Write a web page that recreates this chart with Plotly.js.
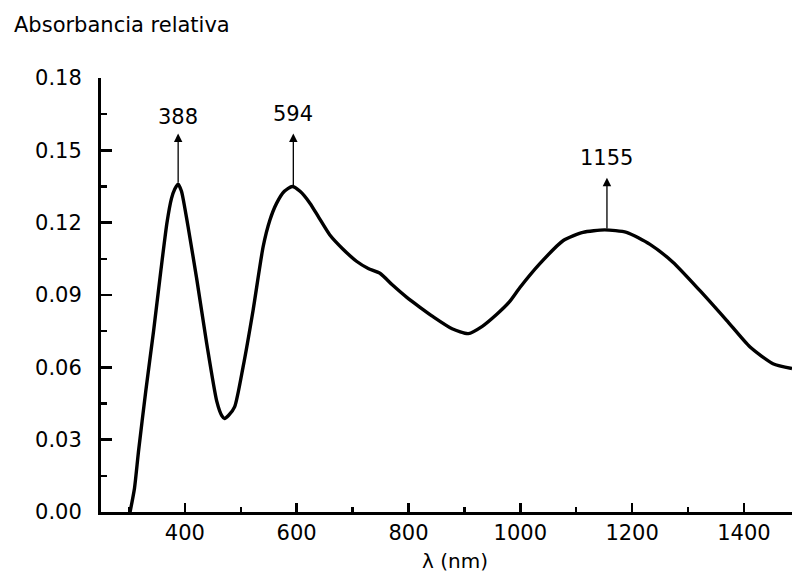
<!DOCTYPE html>
<html>
<head>
<meta charset="utf-8">
<script src="https://cdn.plot.ly/plotly-3.0.1.min.js"></script>
<style>html,body{margin:0;padding:0;background:#fff;}#chart{width:792px;height:576px;}</style>
</head>
<body>
<div id="chart"></div>
<script>
var wavelength = [302, 310, 317, 330, 344, 357, 368, 376, 382, 388, 394, 400, 406, 421, 439, 457, 466, 471, 478, 489, 504, 522, 540, 552, 564, 578, 592, 606, 624, 640, 659, 683, 707, 728, 749, 772, 797, 820, 844, 878, 907, 932, 958, 980, 999, 1035, 1077, 1112, 1151, 1190, 1232, 1273, 1321, 1369, 1411, 1452, 1486];
var absorbance = [0, 0.010, 0.025, 0.050, 0.075, 0.100, 0.120, 0.130, 0.134, 0.136, 0.133, 0.126, 0.118, 0.097, 0.070, 0.046, 0.040, 0.0388, 0.040, 0.0436, 0.060, 0.0836, 0.110, 0.121, 0.128, 0.133, 0.135, 0.133, 0.128, 0.122, 0.115, 0.109, 0.104, 0.101, 0.099, 0.094, 0.089, 0.085, 0.081, 0.076, 0.074, 0.077, 0.082, 0.087, 0.093, 0.103, 0.1126, 0.116, 0.117, 0.116, 0.111, 0.1036, 0.0919, 0.0795, 0.0684, 0.0615, 0.0595];
var peakLabels = ["388", "594", "1155"];
var peakX = [388, 594, 1155];
var peakBase = [0.136, 0.135, 0.117];
var peakTip = [0.157, 0.157, 0.1386];
var peakTextY = [0.164, 0.165, 0.147];
var yTitle = "Absorbancia relativa";
var xTitle = "λ (nm)";

var font = {family: "DejaVu Sans, Arial, sans-serif", size: 21, color: "#000"};

var annotations = [];
for (var i = 0; i < peakX.length; i++) {
  annotations.push({
    x: peakX[i], y: peakTip[i], xref: "x", yref: "y",
    ax: peakX[i], ay: peakBase[i], axref: "x", ayref: "y",
    showarrow: true, arrowhead: 2, arrowsize: 1.3, arrowwidth: 1.3, arrowcolor: "#000", text: ""
  });
  annotations.push({
    x: peakX[i], y: peakTextY[i], xref: "x", yref: "y",
    text: peakLabels[i], showarrow: false, font: font, yanchor: "middle"
  });
}
annotations.push({
  x: -0.129, y: 1.122, xref: "paper", yref: "paper", xanchor: "left", yanchor: "middle",
  text: yTitle, showarrow: false, font: font
});
annotations.push({
  x: 0.513, y: -0.113, xref: "paper", yref: "paper", xanchor: "center", yanchor: "middle",
  text: xTitle, showarrow: false, font: {family: font.family, size: 20, color: "#000"}
});

var trace = {
  x: wavelength, y: absorbance, type: "scatter", mode: "lines",
  line: {color: "#000", width: 3.4, shape: "spline", smoothing: 0.6},
  hoverinfo: "skip"
};

var layout = {
  width: 792, height: 576,
  margin: {l: 101, r: 0, t: 78, b: 64},
  paper_bgcolor: "#fff", plot_bgcolor: "#fff",
  showlegend: false,
  font: font,
  xaxis: {
    range: [250, 1486], showgrid: false, zeroline: false,
    showline: true, linecolor: "#000", linewidth: 2.5,
    ticks: "inside", ticklen: 9, tickwidth: 2.5, tickcolor: "#000",
    tick0: 400, dtick: 200, tickfont: font, ticklabelstandoff: 0,
    minor: {dtick: 100, tick0: 300, ticks: "inside", ticklen: 5, tickwidth: 2.5, tickcolor: "#000", showgrid: false}
  },
  yaxis: {
    range: [0, 0.18], showgrid: false, zeroline: false,
    showline: true, linecolor: "#000", linewidth: 3,
    ticks: "inside", ticklen: 11, tickwidth: 2.5, tickcolor: "#000",
    tick0: 0, dtick: 0.03, tickformat: ".2f", tickfont: font, ticklabelstandoff: 12,
    minor: {dtick: 0.015, ticks: "inside", ticklen: 6, tickwidth: 2.5, tickcolor: "#000", showgrid: false}
  },
  annotations: annotations
};

Plotly.newPlot("chart", [trace], layout, {displayModeBar: false, staticPlot: true});
</script>
</body>
</html>
